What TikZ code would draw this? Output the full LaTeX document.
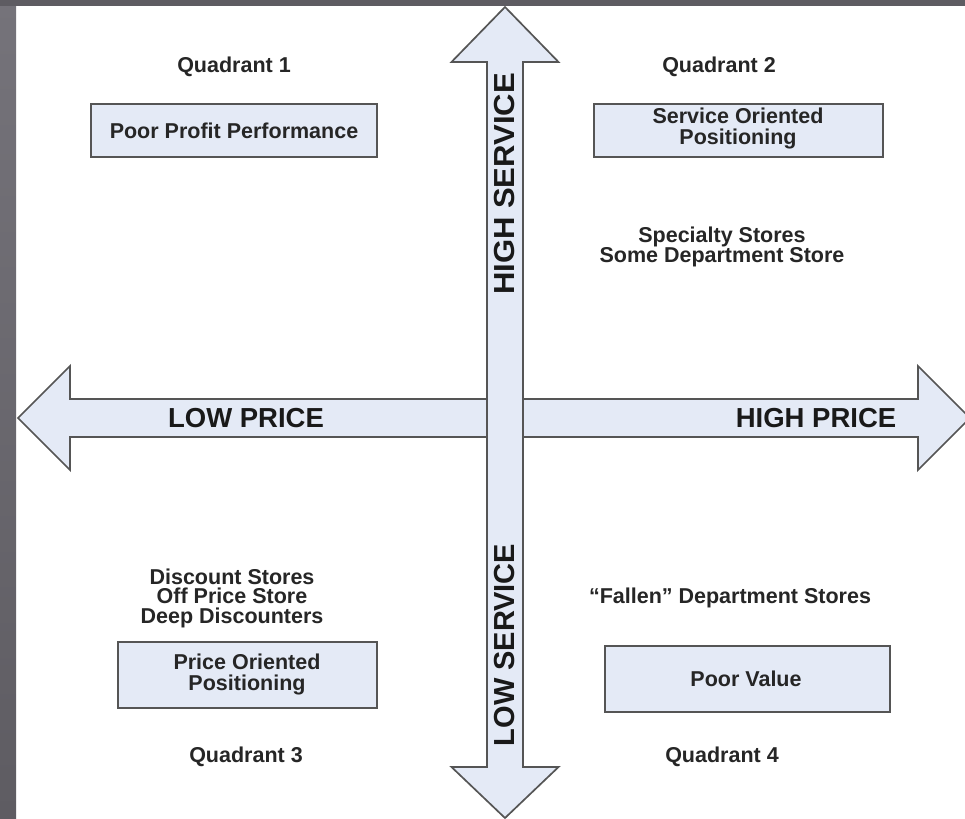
\documentclass[tikz,border=0pt]{standalone}
\usepackage{fontspec}
\setmainfont{Liberation Sans}
\definecolor{boxfill}{HTML}{E4EAF6}
\definecolor{edge}{HTML}{555555}
\definecolor{frameA}{HTML}{5E5C62}
\definecolor{frameB}{HTML}{75737A}
\begin{document}
\begin{tikzpicture}[x=1pt,y=-1pt,
  qbox/.style={draw=edge,fill=boxfill,line width=1.7pt},
  arrowshape/.style={draw=edge,fill=boxfill,line width=1.7pt,line join=miter},
  lbl/.style={font=\fontsize{21.5}{21}\selectfont\bfseries,text=black!85,align=center,inner sep=0pt},
  lst/.style={font=\fontsize{21.5}{19.5}\selectfont\bfseries,text=black!85,align=center,inner sep=0pt},
  albl/.style={font=\fontsize{27.5}{30}\selectfont\bfseries,text=black!90,inner sep=0pt},
  vlbl/.style={font=\fontsize{29}{30}\selectfont\bfseries,text=black!90,inner sep=0pt,rotate=90}]
\useasboundingbox (0,0) rectangle (965,818);
\fill[white] (0,0) rectangle (965,818);
% frame strips
\shade[top color=frameB,bottom color=frameA] (0,0) rectangle (16,818);
\fill[frameA] (0,0) rectangle (965,6);
% horizontal arrow
\draw[arrowshape] (18,418) -- (70,366) -- (70,399) -- (918,399) -- (918,366) -- (970,418)
  -- (918,470) -- (918,437) -- (70,437) -- (70,470) -- cycle;
% vertical arrow
\draw[arrowshape] (505,7) -- (558.5,62) -- (523,62) -- (523,767) -- (558.5,767) -- (505,818)
  -- (451.5,767) -- (487,767) -- (487,62) -- (451.5,62) -- cycle;
% boxes
\draw[qbox] (91,104) rectangle (377,157);
\draw[qbox] (594,104) rectangle (883,157);
\draw[qbox] (118,642) rectangle (377,708);
\draw[qbox] (605,646) rectangle (890,712);
% texts
\node[lbl] (q1) at (234,67) {Quadrant 1};
\node[lbl] (q2) at (719,67) {Quadrant 2};
\node[lbl] (q3) at (246,757) {Quadrant 3};
\node[lbl] (q4) at (722,757) {Quadrant 4};
\node[lbl] (b1) at (234,131) {Poor Profit Performance};
\node[lbl] (b2) at (738,128) {Service Oriented\\Positioning};
\node[lbl] (b3) at (247,674) {Price Oriented\\Positioning};
\node[lbl] (b4) at (746,679) {Poor Value};
\node[lst] (s2) at (722,247) {Specialty Stores\\Some Department Store};
\node[lst] (s3) at (232,598) {Discount Stores\\Off Price Store\\Deep Discounters};
\node[lbl] (s4) at (730,598) {“Fallen” Department Stores};
\node[albl] (lp) at (246,418) {LOW PRICE};
\node[albl] (hp) at (816,418) {HIGH PRICE};
\node[vlbl,xscale=1.07] (hs) at (505,184) {HIGH SERVICE};
\node[vlbl] (ls) at (505,645) {LOW SERVICE};
\end{tikzpicture}
\end{document}
